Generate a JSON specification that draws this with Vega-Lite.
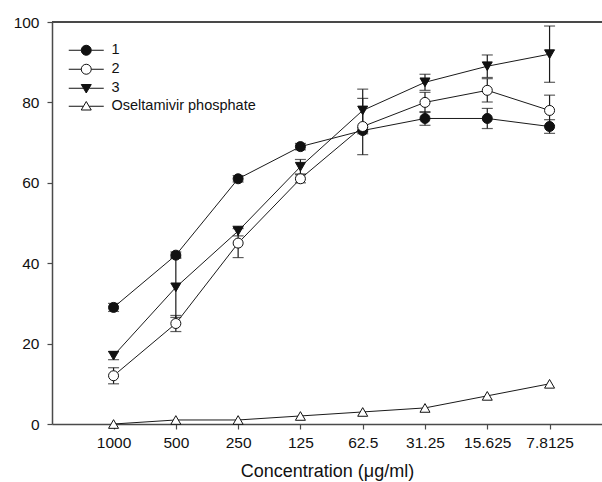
{
  "$schema": "https://vega.github.io/schema/vega-lite/v6.json",
  "width": 550,
  "height": 402,
  "autosize": "none",
  "padding": {"left": 52, "top": 22, "right": 0, "bottom": 58},
  "background": "white",
  "config": {
    "view": {"stroke": null},
    "font": "Liberation Sans",
    "axis": {"grid": false, "domainColor": "#4a4a4a", "domainWidth": 1.5, "tickColor": "#4a4a4a", "tickWidth": 1.2, "tickSize": 5, "labelColor": "#111", "labelFont": "Liberation Sans", "titleFont": "Liberation Sans", "titleColor": "#111", "titleFontWeight": "normal"}
  },
  "data": {
    "values": [
      {"series": "1", "conc": "1000", "mean": 29, "err": 1},
      {"series": "1", "conc": "500", "mean": 42, "err": 0.8},
      {"series": "1", "conc": "250", "mean": 61, "err": 0.8},
      {"series": "1", "conc": "125", "mean": 69, "err": 0.8},
      {"series": "1", "conc": "62.5", "mean": 73, "err": 0.8},
      {"series": "1", "conc": "31.25", "mean": 76, "err": 1.7},
      {"series": "1", "conc": "15.625", "mean": 76, "err": 2.5},
      {"series": "1", "conc": "7.8125", "mean": 74, "err": 1.7},
      {"series": "2", "conc": "1000", "mean": 12, "err": 2},
      {"series": "2", "conc": "500", "mean": 25, "err": 2},
      {"series": "2", "conc": "250", "mean": 45, "err": 3.6},
      {"series": "2", "conc": "125", "mean": 61, "err": 1},
      {"series": "2", "conc": "62.5", "mean": 74, "err": 7},
      {"series": "2", "conc": "31.25", "mean": 80, "err": 2.5},
      {"series": "2", "conc": "15.625", "mean": 83, "err": 2.9},
      {"series": "2", "conc": "7.8125", "mean": 78, "err": 3.8},
      {"series": "3", "conc": "1000", "mean": 17, "err": 1},
      {"series": "3", "conc": "500", "mean": 34, "err": 7.5},
      {"series": "3", "conc": "250", "mean": 48, "err": 1.2},
      {"series": "3", "conc": "125", "mean": 64, "err": 1.8},
      {"series": "3", "conc": "62.5", "mean": 78, "err": 5.3},
      {"series": "3", "conc": "31.25", "mean": 85, "err": 2},
      {"series": "3", "conc": "15.625", "mean": 89, "err": 2.8},
      {"series": "3", "conc": "7.8125", "mean": 92, "err": 7},
      {"series": "Oseltamivir phosphate", "conc": "1000", "mean": 0, "err": 0},
      {"series": "Oseltamivir phosphate", "conc": "500", "mean": 1, "err": 0},
      {"series": "Oseltamivir phosphate", "conc": "250", "mean": 1, "err": 0},
      {"series": "Oseltamivir phosphate", "conc": "125", "mean": 2, "err": 0},
      {"series": "Oseltamivir phosphate", "conc": "62.5", "mean": 3, "err": 0},
      {"series": "Oseltamivir phosphate", "conc": "31.25", "mean": 4, "err": 0},
      {"series": "Oseltamivir phosphate", "conc": "15.625", "mean": 7, "err": 0},
      {"series": "Oseltamivir phosphate", "conc": "7.8125", "mean": 10, "err": 0}
    ]
  },
  "encoding": {
    "x": {
      "field": "conc",
      "type": "ordinal",
      "sort": ["1000", "500", "250", "125", "62.5", "31.25", "15.625", "7.8125"],
      "scale": {"type": "point", "padding": 0.915, "align": 0.54},
      "axis": {"title": "Concentration (μg/ml)", "titleFontSize": 18, "titlePadding": 12, "labelFontSize": 15.5, "labelPadding": 6, "labelAngle": 0}
    },
    "y": {
      "field": "mean",
      "type": "quantitative",
      "scale": {"domain": [0, 100], "nice": false},
      "axis": {"title": null, "values": [0, 20, 40, 60, 80, 100], "labelFontSize": 15.5, "labelPadding": 8}
    }
  },
  "layer": [
    {
      "mark": {"type": "rule", "color": "#4a4a4a", "strokeWidth": 1.5},
      "encoding": {"x": null, "y": {"datum": 100}}
    },
    {
      "mark": {"type": "line", "color": "#1a1a1a", "strokeWidth": 1},
      "encoding": {"detail": {"field": "series", "type": "nominal"}}
    },
    {
      "transform": [{"filter": "datum.err > 0"}],
      "mark": {"type": "errorbar", "color": "#1a1a1a", "thickness": 1.2, "ticks": {"size": 11, "color": "#1a1a1a", "thickness": 1.2}},
      "encoding": {
        "yError": {"field": "err"},
        "detail": {"field": "series", "type": "nominal"}
      }
    },
    {
      "mark": {"type": "point", "filled": true, "size": 100, "stroke": "#111", "strokeWidth": 1, "opacity": 1},
      "encoding": {
        "shape": {
          "field": "series",
          "type": "nominal",
          "scale": {"domain": ["1", "2", "3", "Oseltamivir phosphate"], "range": ["circle", "circle", "triangle-down", "triangle-up"]},
          "legend": null
        },
        "fill": {
          "field": "series",
          "type": "nominal",
          "scale": {"domain": ["1", "2", "3", "Oseltamivir phosphate"], "range": ["#111", "white", "#111", "white"]},
          "legend": null
        }
      }
    },
    {
      "mark": {"type": "point", "filled": true, "size": 100, "stroke": "#111", "strokeWidth": 1, "opacity": 0},
      "encoding": {
        "shape": {
          "field": "series",
          "type": "nominal",
          "scale": {"domain": ["1", "2", "3", "Oseltamivir phosphate"], "range": [
            "M-3.5,0L-1,0M1,0L3.5,0M1,0A1,1,0,1,1,-1,0A1,1,0,1,1,1,0Z",
            "M-3.5,0L-1,0M1,0L3.5,0M1,0A1,1,0,1,1,-1,0A1,1,0,1,1,1,0Z",
            "M-3.5,0L-0.6,0M0.6,0L3.5,0M-1,-0.75L1,-0.75L0,0.95Z",
            "M-3.5,0L-0.6,0M0.6,0L3.5,0M-1,0.75L1,0.75L0,-0.95Z"
          ]},
          "legend": {
            "title": null,
            "orient": "none",
            "legendX": 27,
            "legendY": 21,
            "padding": 0,
            "symbolSize": 100,
            "symbolOpacity": 1,
            "symbolStrokeColor": "#111",
            "symbolStrokeWidth": 1,
            "labelFontSize": 14.5,
            "labelColor": "#111",
            "labelFont": "Liberation Sans",
            "labelOffset": 18,
            "rowPadding": 3,
            "encoding": {
              "symbols": {
                "fill": {"value": {"expr": "datum.value === '1' || datum.value === '3' ? '#111' : 'white'"}},
                "stroke": {"value": "#111"},
                "strokeWidth": {"value": 1},
                "opacity": {"value": 1}
              }
            }
          }
        },
        "fill": {
          "field": "series",
          "type": "nominal",
          "legend": null
        }
      }
    }
  ],
  "resolve": {"scale": {"shape": "independent"}}
}
